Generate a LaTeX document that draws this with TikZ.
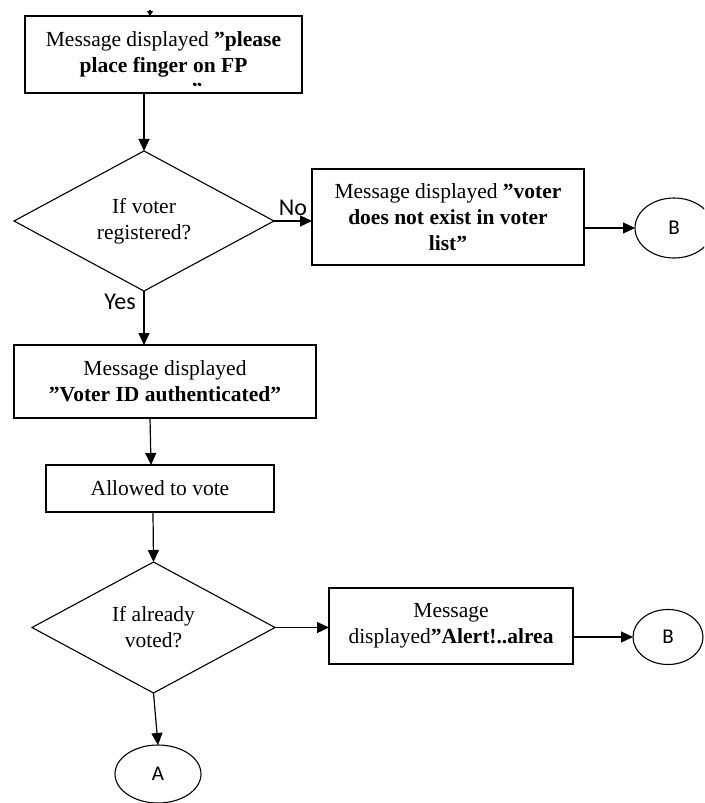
\documentclass[tikz,border=0pt]{standalone}
\usepackage{fontspec}
\setmainfont{Liberation Serif}
\newfontfamily\labelsans{Carlito}
\usetikzlibrary{arrows.meta,shapes.geometric}

\begin{document}
\begin{tikzpicture}[x=1pt,y=-1pt,
  every node/.style={inner sep=0pt, outer sep=0pt},
  proc/.style={draw, line width=1.1pt, rectangle, align=center,
    font=\fontsize{21.5}{26}\selectfont},
  decide/.style={draw, line width=1.1pt, diamond, align=center,
    font=\fontsize{21.5}{26}\selectfont},
  conn/.style={draw, line width=1.1pt, ellipse,
    font=\labelsans\fontsize{21}{24}\selectfont},
  flow/.style={line width=1.2pt, -{Triangle[length=12pt,width=11pt]}},
  tag/.style={font=\labelsans\fontsize{24}{28}\selectfont}
]
\useasboundingbox (0,0) rectangle (704,803);
\clip (0,0) rectangle (704,803);

% process boxes
\node[proc, minimum width=277pt, minimum height=77pt] (msgfp) at (163.5,54.5)
  {Message displayed \textbf{”please}\\\textbf{place finger on FP}};
\node[proc, minimum width=272pt, minimum height=96pt] (msgno) at (448,217)
  {Message displayed \textbf{”voter}\\\textbf{does not exist in voter}\\\textbf{list”}};
\node[proc, minimum width=302pt, minimum height=73pt] (msgid) at (165,381.5)
  {Message displayed\\\textbf{”Voter ID authenticated”}};
\node[proc, minimum width=228pt, minimum height=47pt] (allow) at (160,488.5)
  {Allowed to vote};
\node[proc, minimum width=244pt, minimum height=76pt] (msgal) at (451,626)
  {Message\\displayed\textbf{”Alert!..alrea}};

% closing quote of the first message, cut off by the box
\begin{scope}
  \clip (25,16) rectangle (302,85);
  \node[anchor=base, font=\fontsize{21.5}{26}\selectfont\bfseries] (cutq) at (197,97.5) {”};
\end{scope}

% decisions
\node[decide, minimum width=260pt, minimum height=140pt] (q1) at (144,221)
  {If voter\\registered?};
\node[decide, minimum width=243pt, minimum height=131pt] (q2) at (153.5,627.5)
  {If already\\voted?};

% connectors
\node[conn, minimum width=78pt, minimum height=60pt] (b1) at (674,228) {B};
\node[conn, minimum width=70pt, minimum height=55pt] (b2) at (668,637) {B};
\node[conn, minimum width=86pt, minimum height=58pt] (ca) at (158,774) {A};

% branch labels
\node[tag] (nolab) at (293,208) {No};
\node[tag] (yeslab) at (120,302) {Yes};

% flow lines
\coordinate (entry) at (150,10);
\draw[line width=1.1pt, -{Triangle[length=5pt,width=6pt]}] (entry) -- (entry |- msgfp.north);
\draw[flow] (q1.north |- msgfp.south) -- (q1.north);
\draw[flow] (q1.east) -- (q1.east -| msgno.west);
\draw[flow] (b1.west -| msgno.east) -- (b1.west);
\draw[flow] (q1.south) -- (q1.south |- msgid.north);
\draw[flow] ([xshift=-15pt]msgid.south) -- ([xshift=-9pt]allow.north);
\draw[flow] ([xshift=-7pt]allow.south) -- (q2.north);
\draw[flow] (q2.east) -- (q2.east -| msgal.west);
\draw[flow] (b2.west -| msgal.east) -- (b2.west);
\draw[flow] (q2.south) -- (ca.north);
\end{tikzpicture}
\end{document}
